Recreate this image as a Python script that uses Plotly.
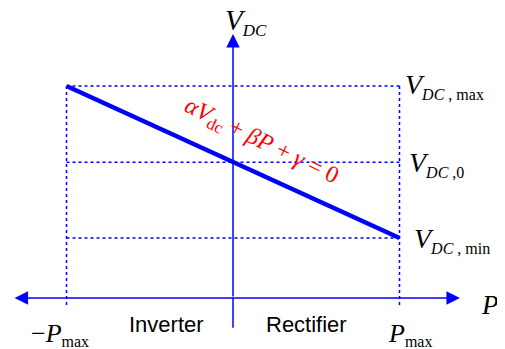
import plotly.graph_objects as go

# characteristic values (per unit)
P_MAX = 1.0
V_MAX = 1.0
V_MIN = 0.283
V_0 = 0.64

# droop line: alpha*Vdc + beta*P + gamma = 0
droop_p = [-P_MAX, P_MAX]
droop_v = [V_MAX, V_MIN]

# axis extents
p_axis = [-1.321, 1.363]
v_axis = [-0.14, 1.245]
guide_bottom = -0.047

BLUE = 'rgb(0,0,255)'
SERIF = 'Liberation Serif'
SANS = 'Liberation Sans'

fig = go.Figure()

# dotted guide lines
dot = dict(color=BLUE, width=1.5, dash='dot')
for v in [V_MAX, V_0, V_MIN]:
    fig.add_trace(go.Scatter(x=[-P_MAX, P_MAX], y=[v, v], mode='lines', line=dot, hoverinfo='skip'))
for p in [-P_MAX, P_MAX]:
    fig.add_trace(go.Scatter(x=[p, p], y=[V_MAX, guide_bottom], mode='lines', line=dot, hoverinfo='skip'))

# vertical axis lower stub (below P axis)
fig.add_trace(go.Scatter(x=[0, 0], y=[v_axis[0], 0], mode='lines',
                         line=dict(color=BLUE, width=1.5), hoverinfo='skip'))

# droop characteristic
fig.add_trace(go.Scatter(x=droop_p, y=droop_v, mode='lines',
                         line=dict(color=BLUE, width=4.5), hoverinfo='skip'))

# axis arrows
fig.add_annotation(x=p_axis[1], y=0, ax=p_axis[0], ay=0, xref='x', yref='y', axref='x', ayref='y',
                   text='', showarrow=True, arrowhead=2, arrowsize=1.8, arrowwidth=1.5,
                   arrowcolor=BLUE, arrowside='end+start')
fig.add_annotation(x=0, y=v_axis[1], ax=0, ay=0, xref='x', yref='y', axref='x', ayref='y',
                   text='', showarrow=True, arrowhead=2, arrowsize=1.8, arrowwidth=1.5,
                   arrowcolor=BLUE)

def sub(s, size):
    return "<sub><span style='font-size:%dpx'>%s</span></sub>" % (size, s)

def label(x, y, txt, size=28, xanchor='left', color='black', font=SERIF, angle=0):
    fig.add_annotation(x=x, y=y, xref='x', yref='y', text=txt, showarrow=False,
                       xanchor=xanchor, yanchor='middle', textangle=angle,
                       font=dict(family=font, size=size, color=color))

label(-0.06, 1.30, '<i>V</i>' + sub('<i>DC</i>', 17), size=29)
label(1.02, V_MAX + 0.0, '<i>V</i>' + sub('<i>DC</i> , max', 16))
label(1.045, V_0 - 0.01, '<i>V</i>' + sub('<i>DC</i> ,0', 16))
label(1.075, V_MIN - 0.01, '<i>V</i>' + sub('<i>DC</i> , min', 16))
label(1.48, -0.035, '<i>P</i>', size=27)
label(-1.04, -0.17, '−<i>P</i>' + sub('max', 16), size=26, xanchor='center')
label(1.063, -0.17, '<i>P</i>' + sub('max', 16), size=26, xanchor='center')
label(-0.40, -0.125, 'Inverter', size=22, xanchor='center', font=SANS)
label(0.444, -0.125, 'Rectifier', size=22, xanchor='center', font=SANS)
label(0.17, 0.735, '<i>αV</i>' + sub('dc', 17) + ' + <i>βP</i> + <i>γ</i> = 0',
      size=24, xanchor='center', color='red', angle=26)

# page body adds an 8px offset, so the figure is 8px smaller and the ranges shifted
fig.update_layout(
    width=497, height=341,
    margin=dict(l=0, r=0, t=0, b=0),
    paper_bgcolor='white', plot_bgcolor='white',
    showlegend=False,
    xaxis=dict(range=[-1.3514, 1.6336], visible=False, fixedrange=True),
    yaxis=dict(range=[-0.2406, 1.3679], visible=False, fixedrange=True),
)

fig.write_html("out.html")
